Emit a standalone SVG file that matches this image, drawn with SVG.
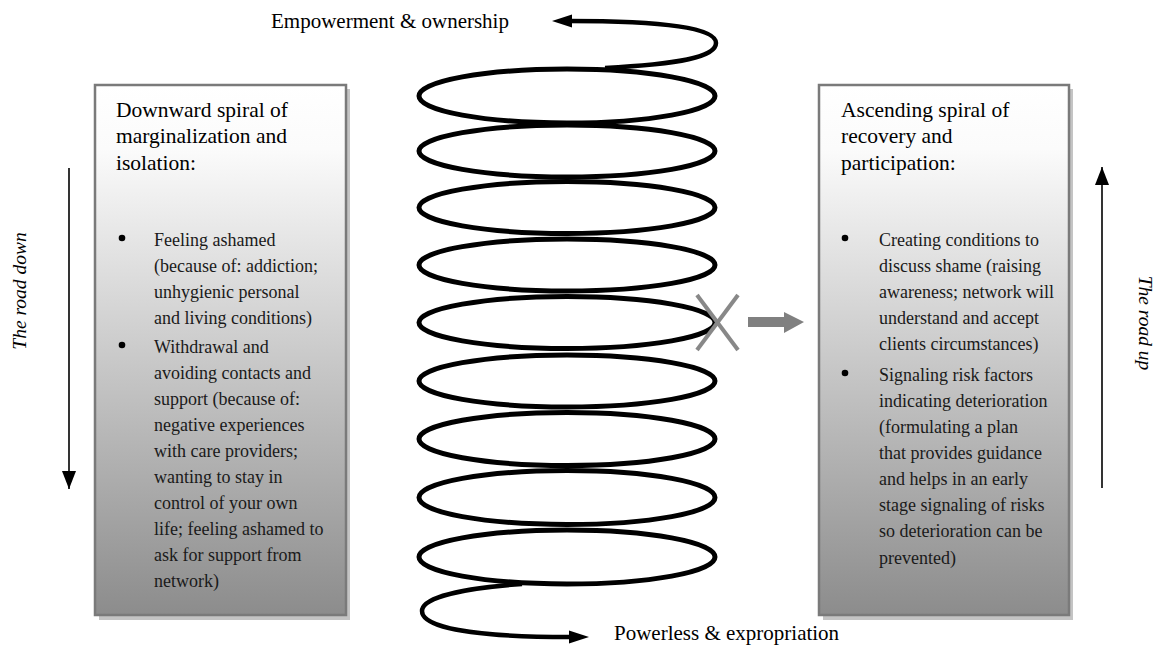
<svg xmlns="http://www.w3.org/2000/svg" width="1169" height="651" viewBox="0 0 1169 651">
  <defs>
    <linearGradient id="boxGrad" x1="0" y1="0" x2="0" y2="1">
      <stop offset="0" stop-color="#ffffff"/>
      <stop offset="0.12" stop-color="#fbfbfb"/>
      <stop offset="1" stop-color="#8c8c8c"/>
    </linearGradient>
    <marker id="ah" viewBox="0 0 18 14" refX="18" refY="7" markerWidth="18" markerHeight="14" markerUnits="userSpaceOnUse" orient="auto">
      <path d="M0,0 L18,7 L0,14 z" fill="#000"/>
    </marker>
  </defs>
  <style>
    .shadow { fill: #c4c4c4; }
    .box { fill: url(#boxGrad); stroke: #7a7a7a; stroke-width: 2.5; }
    .title { font-family: "Liberation Serif", "DejaVu Serif", serif; font-size: 21.5px; fill: #000; }
    .body { font-family: "Liberation Serif", "DejaVu Serif", serif; font-size: 18px; fill: #1a1a1a; }
    .lbl { font-family: "Liberation Serif", "DejaVu Serif", serif; font-size: 21px; fill: #000; }
    .road { font-family: "Liberation Serif", "DejaVu Serif", serif; font-size: 19.5px; font-style: italic; fill: #000; }
    .coil { fill: none; stroke: #000; stroke-width: 5; }
    .tail { fill: none; stroke: #000; stroke-width: 4.5; stroke-linecap: butt; }
    .thin { fill: none; stroke: #000; stroke-width: 1.6; }
    .grey { stroke: #888; stroke-width: 4; fill: none; }
  </style>
  <rect width="1169" height="651" fill="#fff"/>

  <g id="box-left">
    <rect class="shadow" x="99" y="89" width="251" height="531"/>
    <rect class="box" x="95" y="85" width="251" height="530"/>
    <text class="title" x="116" y="117">Downward spiral of</text>
    <text class="title" x="116" y="143">marginalization and</text>
    <text class="title" x="116" y="170">isolation:</text>
    <circle cx="122" cy="238" r="3.3" fill="#000"/>
    <text class="body" x="154" y="246">Feeling ashamed</text>
    <text class="body" x="154" y="272">(because of: addiction;</text>
    <text class="body" x="154" y="298">unhygienic personal</text>
    <text class="body" x="154" y="324">and living conditions)</text>
    <circle cx="122" cy="345" r="3.3" fill="#000"/>
    <text class="body" x="154" y="353">Withdrawal and</text>
    <text class="body" x="154" y="379">avoiding contacts and</text>
    <text class="body" x="154" y="405">support (because of:</text>
    <text class="body" x="154" y="431">negative experiences</text>
    <text class="body" x="154" y="457">with care providers;</text>
    <text class="body" x="154" y="483">wanting to stay in</text>
    <text class="body" x="154" y="509">control of your own</text>
    <text class="body" x="154" y="535">life; feeling ashamed to</text>
    <text class="body" x="154" y="561">ask for support from</text>
    <text class="body" x="154" y="587">network)</text>
  </g>

  <g id="box-right">
    <rect class="shadow" x="823" y="89" width="250" height="531"/>
    <rect class="box" x="819" y="85" width="250" height="530"/>
    <text class="title" x="841" y="117">Ascending spiral of</text>
    <text class="title" x="841" y="143">recovery and</text>
    <text class="title" x="841" y="170">participation:</text>
    <circle cx="845" cy="238" r="3.3" fill="#000"/>
    <text class="body" x="879" y="246">Creating conditions to</text>
    <text class="body" x="879" y="272">discuss shame (raising</text>
    <text class="body" x="879" y="298">awareness; network will</text>
    <text class="body" x="879" y="324">understand and accept</text>
    <text class="body" x="879" y="350">clients circumstances)</text>
    <circle cx="845" cy="373" r="3.3" fill="#000"/>
    <text class="body" x="879" y="381">Signaling risk factors</text>
    <text class="body" x="879" y="407">indicating deterioration</text>
    <text class="body" x="879" y="433">(formulating a plan</text>
    <text class="body" x="879" y="459">that provides guidance</text>
    <text class="body" x="879" y="485">and helps in an early</text>
    <text class="body" x="879" y="511">stage signaling of risks</text>
    <text class="body" x="879" y="537">so deterioration can be</text>
    <text class="body" x="879" y="564">prevented)</text>
  </g>

  <g id="spiral">
    <ellipse class="coil" cx="567" cy="96" rx="148" ry="27"/>
    <ellipse class="coil" cx="567" cy="151" rx="148" ry="26"/>
    <ellipse class="coil" cx="567" cy="207.5" rx="148" ry="26"/>
    <ellipse class="coil" cx="567" cy="265" rx="148" ry="26"/>
    <ellipse class="coil" cx="567" cy="322.5" rx="148" ry="26"/>
    <ellipse class="coil" cx="567" cy="381" rx="148" ry="26"/>
    <ellipse class="coil" cx="567" cy="439" rx="148" ry="26.5"/>
    <ellipse class="coil" cx="567" cy="497.5" rx="148" ry="27"/>
    <ellipse class="coil" cx="567" cy="557" rx="148" ry="27"/>
  </g>

  <g id="labels">
    <text class="lbl" x="271" y="28">Empowerment &amp; ownership</text>
    <text class="lbl" x="614" y="640">Powerless &amp; expropriation</text>
    <text class="road" transform="translate(26,291) rotate(-90)" text-anchor="middle">The road down</text>
    <text class="road" transform="translate(1139,323) rotate(90)" text-anchor="middle">The road up</text>
  </g>

  <g id="connectors">
    <path class="tail" d="M 605 68 C 680 64, 716 57, 716 43 C 716 28, 665 21, 568 21"/>
    <polygon points="552,21 572,14.5 572,27.5" fill="#000"/>
    <path class="tail" d="M 522 584 C 465 588, 422 597, 422 611 C 422 627, 470 637, 570 637"/>
    <polygon points="589,637 569,630.5 569,643.5" fill="#000"/>
    <line class="thin" x1="69" y1="168" x2="69" y2="489" marker-end="url(#ah)"/>
    <line class="thin" x1="1102" y1="488" x2="1102" y2="167" marker-end="url(#ah)"/>
    <line class="grey" x1="697" y1="295" x2="738" y2="350"/>
    <line class="grey" x1="738" y1="295" x2="697" y2="350"/>
    <polygon points="748,317 784,317 784,312 804,322 784,333 784,327 748,327" fill="#808080"/>
  </g>
</svg>
